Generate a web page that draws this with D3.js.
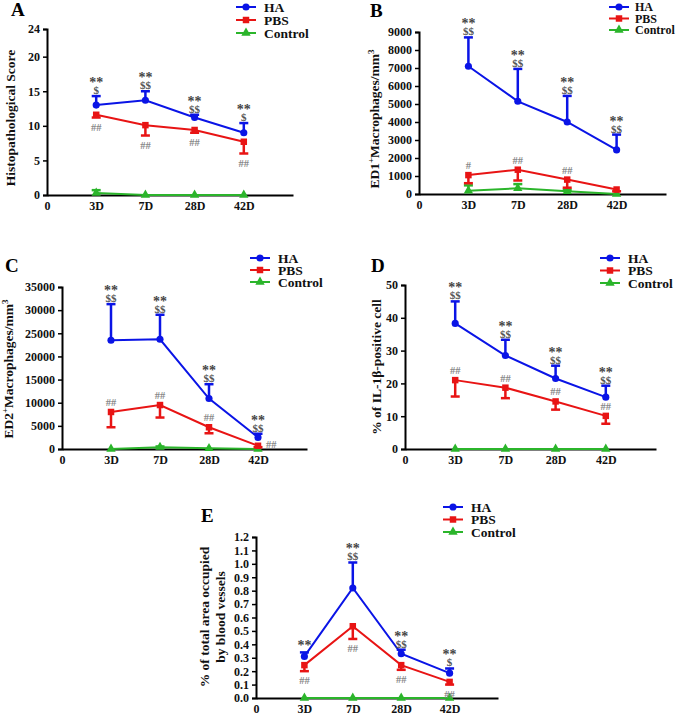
<!DOCTYPE html>
<html><head><meta charset="utf-8">
<script src="https://cdn.jsdelivr.net/npm/d3@7"></script>
<style>body{margin:0;background:#fff}svg{display:block}text{font-family:"Liberation Serif","Times New Roman",serif;font-weight:bold}</style>
</head><body>
<script>
const days = ["3D","7D","28D","42D"];
const seriesNames = ["HA","PBS","Control"];
const colors = ["#0a14e6","#e81414","#2bb52b"];

// Panel A
const aHA = [13.0,13.7,11.2,9.0], aHAerr = [1.3,1.3,0.4,1.4];
const aPBS = [11.6,10.1,9.4,7.7], aPBSerr = [0.4,1.5,0.4,1.7];
const aCtl = [0.3,0,0,0], aCtlErr = [0.4,0,0,0];
const aTicks = [0,5,10,15,20,24];
const aStars = ["**","**","**","**"], aDollars = ["$","$$","$$","$"], aHash = ["##","##","##","##"];
// Panel B
const bHA = [7100,5150,4000,2450], bHAerr = [1600,1800,1450,850];
const bPBS = [1050,1350,800,250], bPBSerr = [450,600,450,100];
const bCtl = [180,320,150,0], bCtlErr = [300,230,80,0];
const bTicks = [0,1000,2000,3000,4000,5000,6000,7000,8000,9000];
const bStars = ["**","**","**","**"], bDollars = ["$$","$$","$$","$$"], bHash = ["#","##","##",""];
// Panel C
const cHA = [23500,23700,10900,2500], cHAerr = [7800,5300,3100,800];
const cPBS = [8000,9500,4700,700], cPBSerr = [3300,2700,1300,300];
const cCtl = [0,400,150,0], cCtlErr = [0,150,0,0];
const cTicks = [0,5000,10000,15000,20000,25000,30000,35000];
const cStars = ["**","**","**","**"], cDollars = ["$$","$$","$$","$$"], cHash = ["##","##","##","##"];
// Panel D
const dHA = [38.3,28.5,21.5,15.8], dHAerr = [6.7,4.8,3.9,3.5];
const dPBS = [21.0,18.7,14.5,10.1], dPBSerr = [5.0,3.2,2.5,2.4];
const dCtl = [0,0,0,0], dCtlErr = [0,0,0,0];
const dTicks = [0,10,20,30,40,50];
const dStars = ["**","**","**","**"], dDollars = ["$$","$$","$$","$$"], dHash = ["##","##","##","##"];
// Panel E
const eHA = [0.31,0.82,0.33,0.185], eHAerr = [0.03,0.19,0.03,0.035];
const ePBS = [0.245,0.535,0.245,0.12], ePBSerr = [0.045,0.095,0.035,0.02];
const eCtl = [0,0,0,0], eCtlErr = [0,0,0,0];
const eTicks = [0,0.1,0.2,0.3,0.4,0.5,0.6,0.7,0.8,0.9,1.0,1.1,1.2];
const eStars = ["**","**","**","**"], eDollars = ["","$$","$$","$"], eHash = ["##","##","##","##"];

const W = 677, H = 716;
const svg = d3.select("body").append("svg").attr("width", W).attr("height", H);

function panel(cfg) {
  const g = svg.append("g");
  const x = d3.scaleLinear().domain([0,5]).range([cfg.x0, cfg.x1]);
  const y = d3.scaleLinear().domain([0, cfg.ymax]).range([cfg.y0, cfg.y1]);
  g.append("text").attr("x", cfg.tx).attr("y", cfg.ty).attr("font-size", 19).text(cfg.letter);
  const ya = g.append("g").attr("transform", `translate(${cfg.x0},0)`)
    .call(d3.axisLeft(y).tickValues(cfg.ticks).tickSize(4).tickFormat(cfg.fmt || d3.format("d")));
  ya.select(".domain").attr("stroke", "#000").attr("stroke-width", 2);
  ya.selectAll(".tick line").attr("stroke", "#000").attr("stroke-width", 1.5);
  ya.selectAll(".tick text").attr("font-size", 12).attr("fill", "#111");
  const xa = g.append("g").attr("transform", `translate(0,${cfg.y0})`)
    .call(d3.axisBottom(x).tickValues([0,1,2,3,4]).tickSize(0).tickPadding(6)
      .tickFormat((d) => d === 0 ? "0" : days[d-1]));
  xa.select(".domain").attr("stroke", "#000").attr("stroke-width", 2);
  xa.selectAll(".tick text").attr("font-size", 12).attr("fill", "#111");
  const lab = g.append("text").attr("transform", `translate(${cfg.lx},${cfg.ly}) rotate(-90)`)
    .attr("text-anchor", "middle").attr("font-size", 13.5).attr("fill", "#111");
  cfg.label(lab);

  const series = [
    {v: cfg.ha, e: cfg.haErr, c: colors[0], dir: -1, shape: d3.symbolCircle, size: 40},
    {v: cfg.pbs, e: cfg.pbsErr, c: colors[1], dir: 1, shape: d3.symbolSquare, size: 42},
    {v: cfg.ctl, e: cfg.ctlErr, c: colors[2], dir: -1, shape: d3.symbolTriangle, size: 38}
  ];
  [2,1,0].forEach(si => {
    const s = series[si];
    const line = d3.line().x((d,i) => x(i+1)).y(d => y(d));
    g.append("path").datum(s.v).attr("d", line).attr("fill", "none").attr("stroke", s.c).attr("stroke-width", 2);
    s.v.forEach((v,i) => {
      const e = s.e[i];
      if (e > 0) {
        const yEnd = y(s.dir < 0 ? v + e : v - e);
        g.append("line").attr("x1", x(i+1)).attr("x2", x(i+1)).attr("y1", y(v)).attr("y2", yEnd)
          .attr("stroke", s.c).attr("stroke-width", 2.5);
        g.append("line").attr("x1", x(i+1)-4.5).attr("x2", x(i+1)+4.5).attr("y1", yEnd).attr("y2", yEnd)
          .attr("stroke", s.c).attr("stroke-width", 2.5);
      }
      g.append("path").attr("d", d3.symbol().type(s.shape).size(s.size)())
        .attr("transform", `translate(${x(i+1)},${y(v)})`).attr("fill", s.c);
    });
  });
  cfg.ha.forEach((v,i) => {
    const top = y(v + cfg.haErr[i]);
    const hasD = cfg.dollars[i] !== "";
    if (hasD) g.append("text").attr("x", x(i+1)).attr("y", top - 2).attr("text-anchor", "middle")
      .attr("font-size", 11).attr("font-weight", "normal").attr("fill", "#555").text(cfg.dollars[i]);
    g.append("text").attr("x", x(i+1)).attr("y", top - (hasD ? 9 : 2)).attr("text-anchor", "middle")
      .attr("font-size", 14).attr("font-weight", "normal").attr("fill", "#444").text(cfg.stars[i]);
  });
  cfg.pbs.forEach((v,i) => {
    const t = cfg.hash[i]; if (!t) return;
    let tx = x(i+1), ty, anchor = "middle";
    const pos = cfg.hashPos[i];
    if (pos === "below") ty = y(v - cfg.pbsErr[i]) + 13;
    else if (pos === "above") ty = y(v) - 6;
    else { tx = x(i+1) + 8; ty = y(v) + 2; anchor = "start"; }
    g.append("text").attr("x", tx).attr("y", ty).attr("text-anchor", anchor)
      .attr("font-size", 10.5).attr("font-weight", "normal").attr("fill", "#888").text(t);
  });
  const lfs = cfg.legFs || 13.5;
  seriesNames.forEach((n,i) => {
    const ly = cfg.legY + i * cfg.legDy;
    g.append("line").attr("x1", cfg.legX).attr("x2", cfg.legX + 20).attr("y1", ly).attr("y2", ly)
      .attr("stroke", series[i].c).attr("stroke-width", 2);
    g.append("path").attr("d", d3.symbol().type(series[i].shape).size(series[i].size)())
      .attr("transform", `translate(${cfg.legX + 10},${ly})`).attr("fill", series[i].c);
    g.append("text").attr("x", cfg.legX + (cfg.legGap || 28)).attr("y", ly + lfs/3).attr("font-size", lfs).attr("fill", "#111").text(n);
  });
}

const mk = (parts) => (t) => parts.forEach(p => {
  const ts = t.append("tspan").text(p[0]);
  if (p[1]) ts.attr("baseline-shift", "super").attr("font-size", 9);
});

panel({letter:"A", tx:11, ty:16, x0:47, x1:293, y0:195, y1:29, ymax:24, ticks:aTicks,
  ha:aHA, haErr:aHAerr, pbs:aPBS, pbsErr:aPBSerr, ctl:aCtl, ctlErr:aCtlErr,
  stars:aStars, dollars:aDollars, hash:aHash, hashPos:["below","below","below","below"],
  lx:15, ly:118, label: mk([["Histopathological Score"]]), legX:236, legY:7, legDy:13});
panel({letter:"B", tx:370, ty:17, x0:419, x1:666, y0:194, y1:32, ymax:9000, ticks:bTicks,
  ha:bHA, haErr:bHAerr, pbs:bPBS, pbsErr:bPBSerr, ctl:bCtl, ctlErr:bCtlErr,
  stars:bStars, dollars:bDollars, hash:bHash, hashPos:["above","above","above","above"],
  lx:379, ly:119, label: mk([["ED1"],["+",1],["Macrophages/mm"],["3",1]]), legX:609, legY:7, legDy:11.5, legFs:12, legGap:26});
panel({letter:"C", tx:5, ty:272, x0:62, x1:307, y0:449, y1:287, ymax:35000, ticks:cTicks,
  ha:cHA, haErr:cHAerr, pbs:cPBS, pbsErr:cPBSerr, ctl:cCtl, ctlErr:cCtlErr,
  stars:cStars, dollars:cDollars, hash:cHash, hashPos:["above","above","above","right"],
  lx:13, ly:369, label: mk([["ED2"],["+",1],["Macrophages/mm"],["3",1]]), legX:250, legY:258, legDy:12});
panel({letter:"D", tx:371, ty:272, x0:405, x1:656, y0:449, y1:285, ymax:50, ticks:dTicks,
  ha:dHA, haErr:dHAerr, pbs:dPBS, pbsErr:dPBSerr, ctl:dCtl, ctlErr:dCtlErr,
  stars:dStars, dollars:dDollars, hash:dHash, hashPos:["above","above","above","above"],
  lx:381, ly:367, label: mk([["% of IL-1β-positive cell"]]), legX:600, legY:258, legDy:12.5});
panel({letter:"E", tx:201, ty:522, x0:256, x1:498, y0:698, y1:537, ymax:1.2, ticks:eTicks, fmt:d3.format(".1f"),
  ha:eHA, haErr:eHAerr, pbs:ePBS, pbsErr:ePBSerr, ctl:eCtl, ctlErr:eCtlErr,
  stars:eStars, dollars:eDollars, hash:eHash, hashPos:["below","below","below","below"],
  lx:209, ly:617, label: (t) => {
    t.append("tspan").attr("x", 0).attr("dy", 0).text("% of total area occupied");
    t.append("tspan").attr("x", 0).attr("dy", 16).text("by blood vessels");
  }, legX:443, legY:507, legDy:12.5});
</script>
</body></html>
